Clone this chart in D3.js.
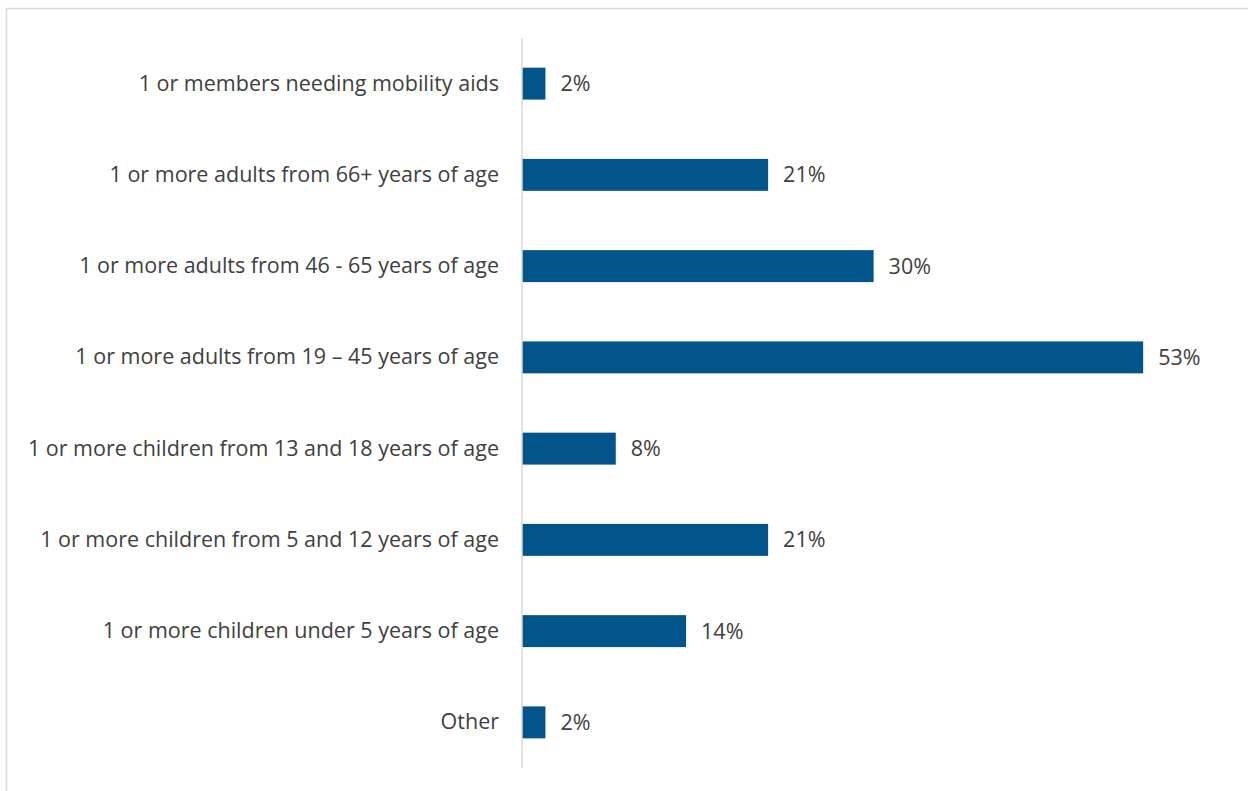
<!DOCTYPE html>
<html>
<head>
<meta charset="utf-8">
<script src="https://cdn.jsdelivr.net/npm/d3@7"></script>
<style>
  html, body { margin: 0; padding: 0; background: #fff; }
  svg { display: block; }
</style>
</head>
<body>
<svg id="chart" width="1248" height="791"></svg>
<script>
// Household composition: share of households with each member type
const categories = [
  "1 or members needing mobility aids",
  "1 or more adults from 66+ years of age",
  "1 or more adults from 46 - 65 years of age",
  "1 or more adults from 19 \u2013 45 years of age",
  "1 or more children from 13 and 18 years of age",
  "1 or more children from 5 and 12 years of age",
  "1 or more children under 5 years of age",
  "Other"
];
const values = [2, 21, 30, 53, 8, 21, 14, 2];
const valueLabels = ["2%", "21%", "30%", "53%", "8%", "21%", "14%", "2%"];

const svg = d3.select("#chart");
const W = 1248, H = 791;
const font = "'Open Sans', 'Noto Sans', sans-serif";
const textColor = "#404040";
const barColor = "#01558B";

// Frame (left and top edges visible)
svg.append("rect")
  .attr("x", 6.5).attr("y", 8.5)
  .attr("width", W + 20).attr("height", H + 20)
  .attr("fill", "#fff")
  .attr("stroke", "#d9d9d9")
  .attr("stroke-width", 1.5);

const x0 = 522;
const x = d3.scaleLinear().domain([0, 55]).range([x0, x0 + 55 * 11.72]);
const y = d3.scaleBand().domain(categories).range([38, 768]).paddingInner(0.65).paddingOuter(0.325);

// Bars
svg.append("g").selectAll("rect")
  .data(values)
  .join("rect")
  .attr("x", x(0))
  .attr("y", (d, i) => y(categories[i]))
  .attr("width", d => x(d) - x(0))
  .attr("height", y.bandwidth())
  .attr("fill", barColor);

// Value labels
svg.append("g").selectAll("text")
  .data(values)
  .join("text")
  .attr("x", d => x(d) + 15)
  .attr("y", (d, i) => y(categories[i]) + y.bandwidth() / 2)
  .attr("dy", "0.35em")
  .attr("font-family", font)
  .attr("font-size", 21.5)
  .attr("fill", textColor)
  .text((d, i) => valueLabels[i]);

// Category axis
const axis = svg.append("g")
  .attr("transform", `translate(${x0},0)`)
  .call(d3.axisLeft(y).tickSize(0).tickPadding(23));
axis.select(".domain")
  .attr("d", "M0,38V768")
  .attr("stroke", "#d9d9d9")
  .attr("stroke-width", 1.5);
axis.selectAll(".tick text")
  .attr("font-family", font)
  .attr("font-size", 21.5)
  .attr("fill", textColor);
</script>
</body>
</html>
